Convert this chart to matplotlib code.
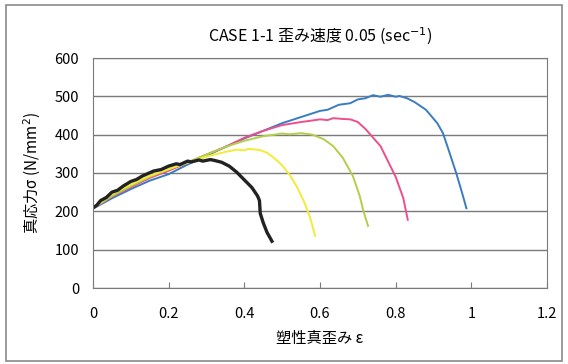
import matplotlib
matplotlib.use('Agg')
import matplotlib.pyplot as plt
from matplotlib.patches import Rectangle

plt.rcParams['font.family'] = ['Noto Sans CJK JP', 'DejaVu Sans']
plt.rcParams['mathtext.fontset'] = 'dejavusans'

# strain / true stress
black_eps = [0, 0.01, 0.02, 0.035, 0.05, 0.065, 0.08, 0.10, 0.115, 0.13, 0.16, 0.18, 0.20,
             0.22, 0.23, 0.25, 0.26, 0.28, 0.29, 0.31, 0.32, 0.34,
             0.36, 0.38, 0.40, 0.42, 0.435, 0.44, 0.442, 0.45, 0.46, 0.473]
black_sig = [209, 216, 228, 236, 250, 255, 266, 278, 283, 292, 305, 309, 318,
             324, 322, 331, 329, 334, 331, 335, 333, 328,
             318, 302, 282, 262, 240, 228, 195, 170, 145, 122]

yellow_eps = [0, 0.05, 0.10, 0.15, 0.20, 0.25, 0.30, 0.35, 0.38, 0.40, 0.41, 0.43, 0.44, 0.46,
              0.48, 0.50, 0.52, 0.54, 0.56, 0.575, 0.587]
yellow_sig = [209, 245, 270, 293, 310, 327, 343, 355, 361, 359, 363, 361, 360, 353,
              338, 320, 295, 262, 220, 180, 136]

green_eps = [0, 0.05, 0.10, 0.15, 0.20, 0.25, 0.30, 0.35, 0.40, 0.45, 0.48, 0.50, 0.52, 0.55,
             0.58, 0.61, 0.635, 0.66, 0.687, 0.705, 0.715, 0.727]
green_sig = [208, 240, 266, 290, 310, 328, 348, 368, 384, 396, 400, 403, 401, 404,
             400, 388, 370, 340, 292, 240, 200, 162]

pink_eps = [0, 0.05, 0.10, 0.15, 0.20, 0.25, 0.30, 0.35, 0.40, 0.45, 0.50, 0.55,
            0.58, 0.60, 0.62, 0.635, 0.66, 0.68, 0.70, 0.72, 0.76, 0.78, 0.80, 0.82, 0.832]
pink_sig = [208, 238, 263, 287, 306, 327, 348, 368, 392, 410, 425, 433,
            437, 440, 438, 443, 441, 440, 433, 415, 370, 330, 290, 235, 178]

blue_eps = [0, 0.05, 0.10, 0.15, 0.20, 0.25, 0.30, 0.35, 0.40, 0.45, 0.50, 0.55,
            0.60, 0.62, 0.65, 0.68, 0.70, 0.72, 0.74, 0.76, 0.78, 0.80, 0.81, 0.83,
            0.85, 0.88, 0.91, 0.925, 0.94, 0.96, 0.975, 0.987]
blue_sig = [207, 234, 258, 280, 297, 322, 345, 368, 390, 410, 430, 446,
            462, 465, 478, 482, 492, 495, 503, 499, 504, 499, 501, 495,
            485, 465, 430, 404, 360, 300, 250, 208]

series = [
    (blue_eps, blue_sig, '#3a7cc2', 1.4),
    (pink_eps, pink_sig, '#ec4f8c', 1.4),
    (green_eps, green_sig, '#b2cf4a', 1.4),
    (yellow_eps, yellow_sig, '#f2ec38', 1.4),
    (black_eps, black_sig, '#222222', 2.4),
]

fig = plt.figure(figsize=(5.68, 3.64), dpi=100)
fig.patch.set_facecolor('white')
ax = fig.add_axes([93 / 568, 76 / 364, 454 / 568, 230 / 364])

for eps, sig, color, lw in series:
    ax.plot(eps, sig, color=color, linewidth=lw)

ax.set_xlim(0, 1.2)
ax.set_ylim(0, 600)
ax.set_xticks([0, 0.2, 0.4, 0.6, 0.8, 1.0, 1.2])
ax.set_xticklabels(['0', '0.2', '0.4', '0.6', '0.8', '1', '1.2'])
ax.set_yticks(range(0, 601, 100))
ax.yaxis.grid(True, color='#7a7a7a', linewidth=1.0)
ax.set_axisbelow(True)
ax.tick_params(axis='x', direction='in', length=4, color='#7a7a7a', pad=14, labelsize=10.5)
ax.tick_params(axis='y', length=0, pad=10, labelsize=10.5)
for s in ax.spines.values():
    s.set_color('#7a7a7a')

ax.set_xlabel('塑性真歪み ε', fontsize=11, labelpad=6)
ax.set_ylabel('真応力σ (N/mm$^{2}$)', fontsize=11, labelpad=8)
ax.set_title('CASE 1-1 歪み速度 0.05 (sec$^{-1}$)', fontsize=11.5, pad=12)

fig.patches.append(Rectangle((6 / 568, 3 / 364), 556 / 568, 356 / 364,
                             transform=fig.transFigure, fill=False,
                             edgecolor='#8a8a8a', linewidth=1.2))

fig.savefig('out.png', dpi=100)
